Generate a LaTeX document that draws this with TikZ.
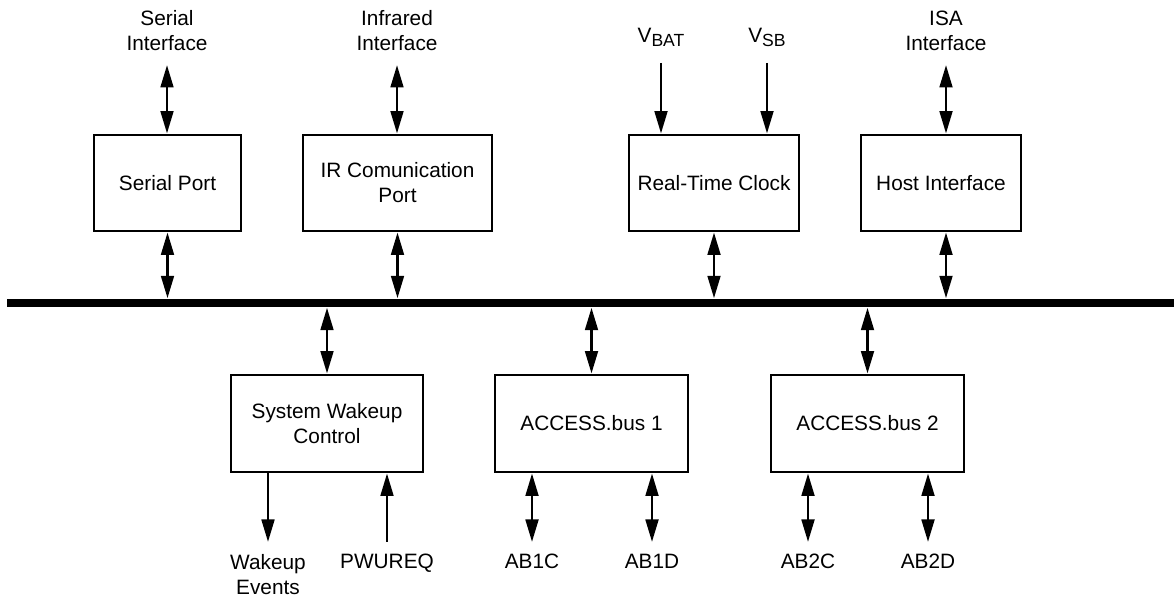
\documentclass[tikz,border=0pt]{standalone}
\usepackage{fontspec}
\setmainfont{Liberation Sans}
\usepackage{tikz}
\usetikzlibrary{arrows.meta,positioning,calc}
\tikzstyle{block} = [rectangle, draw, line width=2pt, minimum height=2.4cm, align=center, inner sep=0pt, font=\fontsize{14.8}{17.8}\selectfont]
\tikzstyle{sig} = [align=center, inner sep=0pt, font=\fontsize{14.8}{17.8}\selectfont]
\tikzstyle{biarrow} = [line width=2pt, {Triangle[length=16pt,width=9pt]}-{Triangle[length=16pt,width=9pt]}]
\tikzstyle{onearrow} = [line width=2pt, -{Triangle[length=16pt,width=9pt]}]
\newcommand{\vsub}[1]{V\raisebox{-0.35ex}{\fontsize{12.5}{12.5}\selectfont #1}}

\begin{document}
\begin{tikzpicture}
    \useasboundingbox (0,0) rectangle (29.35,15.25);

    % Bus
    \node[rectangle, fill=black, inner sep=0pt, minimum width=29.175cm, minimum height=0.22cm] (bus) at (14.7625,7.675) {};

    % Upper blocks
    \node[block, minimum width=3.675cm] (sport) at (4.1875,10.675) {Serial Port};
    \node[block, minimum width=4.725cm] (irport) at (9.9375,10.675) {IR Comunication\\Port};
    \node[block, minimum width=4.25cm] (rtc) at (17.85,10.675) {Real-Time Clock};
    \node[block, minimum width=4.0cm] (host) at (23.525,10.675) {Host Interface};

    % Lower blocks
    \node[block, minimum width=4.8cm, minimum height=2.425cm] (wakeup) at (8.175,4.6625) {System Wakeup\\Control};
    \node[block, minimum width=4.825cm, minimum height=2.425cm] (abone) at (14.7875,4.6625) {ACCESS.bus 1};
    \node[block, minimum width=4.825cm, minimum height=2.425cm] (abtwo) at (21.6875,4.6625) {ACCESS.bus 2};

    % Top signals
    \coordinate (serialIn) at (4.175,13.625);
    \coordinate (irIn) at (9.925,13.625);
    \coordinate (vbatIn) at (16.525,13.675);
    \coordinate (vsbIn) at (19.175,13.675);
    \coordinate (isaIn) at (23.65,13.625);
    \node[sig, above=0.35cm of serialIn] (serialLbl) {Serial\\Interface};
    \node[sig, above=0.35cm of irIn] (irLbl) {Infrared\\Interface};
    \node[sig, above=0.4cm of vbatIn] (vbatLbl) {\vsub{BAT}};
    \node[sig, above=0.4cm of vsbIn] (vsbLbl) {\vsub{SB}};
    \node[sig, above=0.35cm of isaIn] (isaLbl) {ISA\\Interface};

    \draw[biarrow] (serialIn) -- (serialIn |- sport.north);
    \draw[biarrow] (irIn) -- (irIn |- irport.north);
    \draw[onearrow] (vbatIn) -- (vbatIn |- rtc.north);
    \draw[onearrow] (vsbIn) -- (vsbIn |- rtc.north);
    \draw[biarrow] (isaIn) -- (isaIn |- host.north);

    % Upper blocks to bus
    \draw[biarrow] (sport.south) -- (sport.south |- bus.north);
    \draw[biarrow] (irport.south) -- (irport.south |- bus.north);
    \draw[biarrow] (rtc.south) -- (rtc.south |- bus.north);
    \draw[biarrow] (isaIn |- host.south) -- (isaIn |- bus.north);

    % Bus to lower blocks
    \draw[biarrow] (bus.south -| wakeup.north) -- (wakeup.north);
    \draw[biarrow] (bus.south -| abone.north) -- (abone.north);
    \draw[biarrow] (bus.south -| abtwo.north) -- (abtwo.north);

    % Bottom signals
    \coordinate (wakeOut) at (6.7,1.7);
    \coordinate (pwureqIn) at (9.675,1.7);
    \coordinate (abOneC) at (13.3,1.7);
    \coordinate (abOneD) at (16.3,1.7);
    \coordinate (abTwoC) at (20.2,1.7);
    \coordinate (abTwoD) at (23.2,1.7);
    \node[sig, below=0.3cm of wakeOut] (wakeLbl) {Wakeup\\Events};
    \node[sig, below=0.3cm of pwureqIn] (pwureqLbl) {PWUREQ};
    \node[sig, below=0.3cm of abOneC] (abOneCLbl) {AB1C};
    \node[sig, below=0.3cm of abOneD] (abOneDLbl) {AB1D};
    \node[sig, below=0.3cm of abTwoC] (abTwoCLbl) {AB2C};
    \node[sig, below=0.3cm of abTwoD] (abTwoDLbl) {AB2D};

    \draw[onearrow] (wakeOut |- wakeup.south) -- (wakeOut);
    \draw[onearrow] (pwureqIn) -- (pwureqIn |- wakeup.south);
    \draw[biarrow] (abOneC |- abone.south) -- (abOneC);
    \draw[biarrow] (abOneD |- abone.south) -- (abOneD);
    \draw[biarrow] (abTwoC |- abtwo.south) -- (abTwoC);
    \draw[biarrow] (abTwoD |- abtwo.south) -- (abTwoD);
\end{tikzpicture}
\end{document}
